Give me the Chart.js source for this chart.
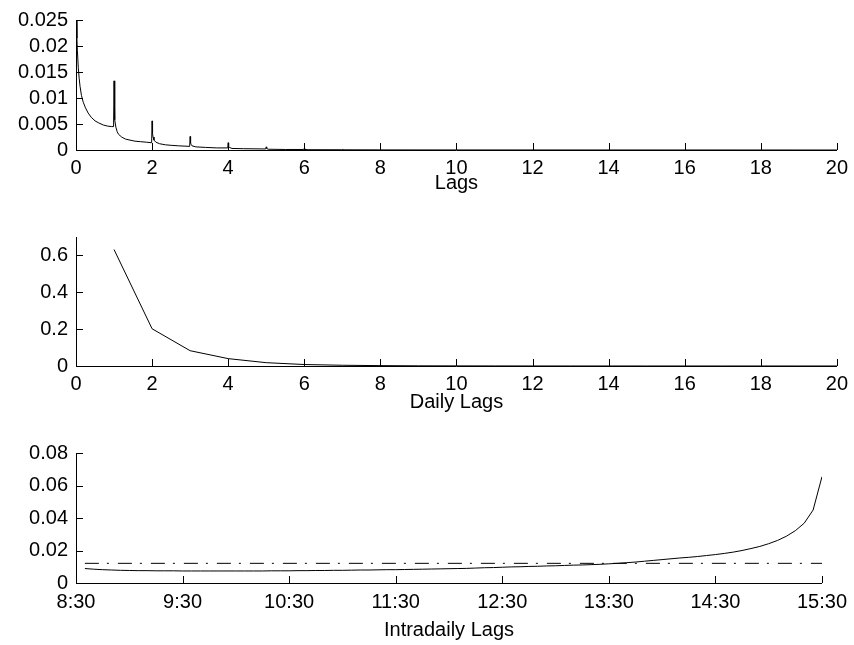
<!DOCTYPE html>
<html>
<head>
<meta charset="utf-8">
<script src="https://cdn.jsdelivr.net/npm/chart.js@4.4.1/dist/chart.umd.min.js"></script>
<style>
  html, body { margin: 0; padding: 0; background: #fff; }
  body { width: 854px; height: 645px; position: relative; overflow: hidden; }
  canvas { position: absolute; left: 0; }
</style>
</head>
<body>
<canvas id="lagsChart" width="854" height="200" style="top:0px"></canvas>
<canvas id="dailyChart" width="854" height="200" style="top:215px"></canvas>
<canvas id="intraChart" width="854" height="215" style="top:430px"></canvas>
<script>
// --- top panel: all lags (in days), spikes at whole-day lags
const lagX = [
  0.012, 0.024, 0.036, 0.06, 0.083, 0.107, 0.143, 0.19, 0.25, 0.32, 0.4, 0.5, 0.6, 0.72, 0.83, 0.94, 0.988,
  1.0, 1.012, 1.024, 1.048, 1.083, 1.12, 1.2, 1.3, 1.42, 1.55, 1.7, 1.85, 1.988,
  2.0, 2.012, 2.024, 2.05, 2.1, 2.2, 2.35, 2.5, 2.7, 2.988,
  3.0, 3.012, 3.024, 3.05, 3.15, 3.4, 3.7, 3.988,
  4.0, 4.012, 4.03, 4.1, 4.4, 4.988,
  5.0, 5.012, 5.05, 5.5, 5.988,
  6.0, 6.012, 6.1, 6.988,
  7.0, 7.012, 7.988,
  8.0, 8.012, 10, 20
];
const lagY = [
  0.0252, 0.0215, 0.0192, 0.0158, 0.0138, 0.0122, 0.0105, 0.0092, 0.0081, 0.0071, 0.0063, 0.0056, 0.0052, 0.0048, 0.0046, 0.0045, 0.0045,
  0.0133, 0.0072, 0.0058, 0.0044, 0.0035, 0.0030, 0.0025, 0.0021, 0.0019, 0.0017, 0.0016, 0.0015, 0.0014,
  0.0056, 0.0032, 0.0025, 0.0019, 0.0015, 0.0012, 0.0010, 0.0009, 0.0008, 0.0007,
  0.0026, 0.0014, 0.0011, 0.0008, 0.0006, 0.0005, 0.0004, 0.0004,
  0.0014, 0.0007, 0.0005, 0.0003, 0.00025, 0.0002,
  0.0006, 0.0003, 0.00015, 0.0001, 0.0001,
  0.0003, 0.0001, 0.00006, 0.00005,
  0.00012, 0.00004, 0.00003,
  0.00006, 0.00002, 0.00001, 0
];
const lagTicks = [0, 2, 4, 6, 8, 10, 12, 14, 16, 18, 20];
const lagYTicks = [0, 0.005, 0.01, 0.015, 0.02, 0.025];
const lagYLabels = ["0", "0.005", "0.01", "0.015", "0.02", "0.025"];

// --- middle panel: daily lags
const dailyLags = [1, 2, 3, 4, 5, 6, 7, 8, 9, 10, 11, 12, 13, 14, 15, 16, 17, 18, 19, 20];
const dailyValues = [0.632, 0.202, 0.083, 0.040, 0.018, 0.008, 0.004, 0.002, 0.001, 0.0006,
  0.0004, 0.0002, 0.0001, 0.0001, 0.00005, 0.00004, 0.00003, 0.00002, 0.00001, 0.00001];
const dailyYTicks = [0, 0.2, 0.4, 0.6];
const dailyYLabels = ["0", "0.2", "0.4", "0.6"];

// --- bottom panel: intradaily lags (5 minute bins)
const intraTimes = [
  "8:35", "8:40", "8:45", "8:50", "8:55", "9:00", "9:05", "9:10", "9:15", "9:20", "9:25", "9:30",
  "9:35", "9:40", "9:45", "9:50", "9:55", "10:00", "10:05", "10:10", "10:15", "10:20", "10:25", "10:30",
  "10:35", "10:40", "10:45", "10:50", "10:55", "11:00", "11:05", "11:10", "11:15", "11:20", "11:25", "11:30",
  "11:35", "11:40", "11:45", "11:50", "11:55", "12:00", "12:05", "12:10", "12:15", "12:20", "12:25", "12:30",
  "12:35", "12:40", "12:45", "12:50", "12:55", "13:00", "13:05", "13:10", "13:15", "13:20", "13:25", "13:30",
  "13:35", "13:40", "13:45", "13:50", "13:55", "14:00", "14:05", "14:10", "14:15", "14:20", "14:25", "14:30",
  "14:35", "14:40", "14:45", "14:50", "14:55", "15:00", "15:05", "15:10", "15:15", "15:20", "15:25", "15:30"
];
const intraValues = [
  0.0089, 0.0085, 0.0082, 0.0080, 0.0078, 0.0077, 0.0076, 0.0076, 0.0075, 0.0075, 0.0075, 0.0074,
  0.0074, 0.0074, 0.0074, 0.0074, 0.0074, 0.0074, 0.0074, 0.0074, 0.0074, 0.0075, 0.0075, 0.0075,
  0.0076, 0.0076, 0.0077, 0.0077, 0.0078, 0.0078, 0.0079, 0.0080, 0.0080, 0.0081, 0.0082, 0.0082,
  0.0083, 0.0084, 0.0085, 0.0086, 0.0087, 0.0088, 0.0089, 0.0090, 0.0092, 0.0094, 0.0095, 0.0097,
  0.0099, 0.0100, 0.0102, 0.0103, 0.0105, 0.0106, 0.0108, 0.0110, 0.0111, 0.0113, 0.0115, 0.0118,
  0.0121, 0.0125, 0.0129, 0.0134, 0.0139, 0.0144, 0.0149, 0.0154, 0.0158, 0.0163, 0.0169, 0.0175,
  0.0182, 0.0190, 0.0200, 0.0212, 0.0225, 0.0242, 0.0262, 0.0288, 0.0322, 0.0368, 0.0449, 0.0654
];
const flatLevel = 0.0121;
const timeTickLabels = ["8:30", "9:30", "10:30", "11:30", "12:30", "13:30", "14:30", "15:30"];
const intraYTicks = [0, 0.02, 0.04, 0.06, 0.08];
const intraYLabels = ["0", "0.02", "0.04", "0.06", "0.08"];

const font = { family: "'Liberation Sans', Arial, sans-serif", size: 20 };

// minutes after 8:30
function toMinutes(t) {
  const [h, m] = t.split(":").map(Number);
  return h * 60 + m - 510;
}

// matlab style ticks pointing into the axes
const inwardTicks = {
  id: "inwardTicks",
  afterDraw(chart) {
    const ctx = chart.ctx;
    const { x, y } = chart.scales;
    ctx.save();
    ctx.strokeStyle = "#000";
    ctx.lineWidth = 1;
    ctx.beginPath();
    x.ticks.forEach(t => {
      const px = Math.round(x.getPixelForValue(t.value)) + 0.5;
      ctx.moveTo(px, x.top);
      ctx.lineTo(px, x.top - 7);
    });
    y.ticks.forEach(t => {
      const py = Math.round(y.getPixelForValue(t.value)) + 0.5;
      ctx.moveTo(y.right, py);
      ctx.lineTo(y.right + 7, py);
    });
    ctx.stroke();
    ctx.restore();
  }
};

function buildChart(id, datasets, o) {
  return new Chart(document.getElementById(id), {
    type: "line",
    data: { datasets },
    plugins: [inwardTicks],
    options: {
      responsive: false,
      animation: false,
      devicePixelRatio: 1,
      layout: { padding: { top: o.top, right: o.right, left: 0, bottom: 0 } },
      plugins: { legend: { display: false }, tooltip: { enabled: false } },
      elements: {
        point: { radius: 0 },
        line: { borderWidth: 1, borderColor: "#000", tension: 0 }
      },
      scales: {
        x: {
          type: "linear",
          min: o.xMin,
          max: o.xMax,
          grid: { display: false, drawTicks: false },
          border: { display: true, color: "#000", width: 1 },
          ticks: {
            color: "#000", font, padding: o.xPad, maxRotation: 0, autoSkip: false,
            callback: (v, i) => o.xLabels[i]
          },
          afterBuildTicks: s => { s.ticks = o.xTicks.map(v => ({ value: v })); },
          afterFit: s => { s.height = o.xHeight; },
          title: {
            display: true, text: o.xTitle, color: "#000", font,
            padding: { top: 0, bottom: o.titlePad }
          }
        },
        y: {
          type: "linear",
          min: 0,
          max: o.yMax,
          grid: { display: false, drawTicks: false },
          border: { display: true, color: "#000", width: 1 },
          ticks: {
            color: "#000", font, padding: 8, autoSkip: false,
            callback: (v, i) => o.yLabels[i]
          },
          afterBuildTicks: s => { s.ticks = o.yTicks.map(v => ({ value: v })); },
          afterFit: s => { s.width = 76; }
        }
      }
    }
  });
}

buildChart("lagsChart", [
  { data: lagX.map((x, i) => ({ x, y: lagY[i] })) }
], {
  top: 20, right: 15, xMin: 0, xMax: 20, xTicks: lagTicks, xLabels: lagTicks.map(String),
  xPad: 6, xHeight: 50, xTitle: "Lags", titlePad: 5,
  yMax: 0.025, yTicks: lagYTicks, yLabels: lagYLabels
});

buildChart("dailyChart", [
  { data: dailyLags.map((x, i) => ({ x, y: dailyValues[i] })) }
], {
  top: 22, right: 15, xMin: 0, xMax: 20, xTicks: lagTicks, xLabels: lagTicks.map(String),
  xPad: 6, xHeight: 49, xTitle: "Daily Lags", titlePad: 1,
  yMax: 0.7, yTicks: dailyYTicks, yLabels: dailyYLabels
});

const intraMinutes = intraTimes.map(toMinutes);
const first = intraMinutes[0];
const last = intraMinutes[intraMinutes.length - 1];

buildChart("intraChart", [
  { data: intraMinutes.map((x, i) => ({ x, y: intraValues[i] })) },
  { data: [{ x: first, y: flatLevel }, { x: last, y: flatLevel }], borderDash: [14, 8, 2, 9] }
], {
  top: 23, right: 32, xMin: 0, xMax: 420, xTicks: timeTickLabels.map(toMinutes), xLabels: timeTickLabels,
  xPad: 7, xHeight: 62, xTitle: "Intradaily Lags", titlePad: 3,
  yMax: 0.08, yTicks: intraYTicks, yLabels: intraYLabels
});
</script>
</body>
</html>
